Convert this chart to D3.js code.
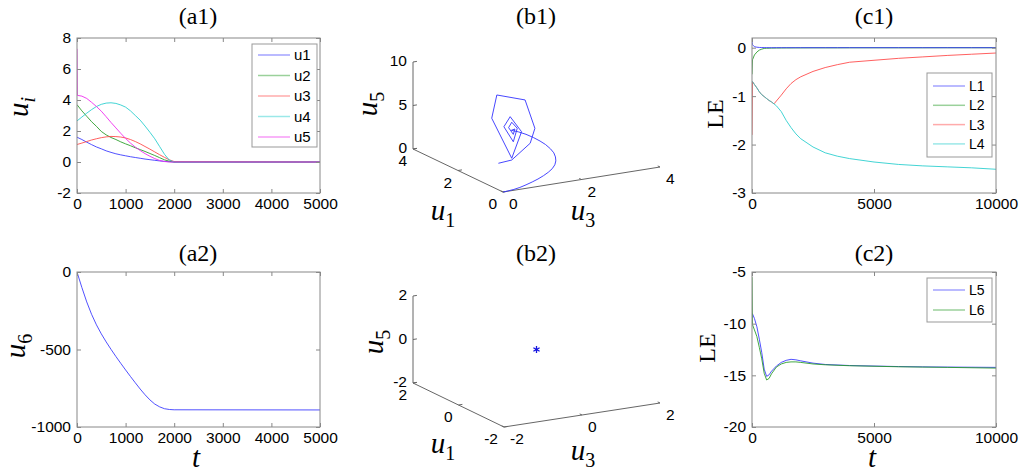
<!DOCTYPE html>
<html>
<head>
<meta charset="utf-8">
<script src="https://cdn.jsdelivr.net/npm/d3@7"></script>
<style>
  body { margin: 0; background: #fff; }
  svg { display: block; }
</style>
</head>
<body>
<svg id="fig" width="1024" height="472"></svg>
<script>
// ---- data ----
var timeA = [0, 100, 200, 300, 400, 500, 600, 700, 800, 900, 1000, 1100, 1200, 1300, 1400, 1500, 1600, 1700, 1800, 1900, 2000, 5000];
var u1 = [1.6, 1.45, 1.28, 1.12, 0.97, 0.85, 0.72, 0.62, 0.53, 0.46, 0.40, 0.34, 0.29, 0.24, 0.19, 0.15, 0.11, 0.07, 0.04, 0.02, 0, 0];
var u2 = [3.7, 3.3, 2.95, 2.6, 2.3, 1.97, 1.75, 1.58, 1.45, 1.3, 1.17, 1.05, 0.92, 0.8, 0.68, 0.55, 0.42, 0.28, 0.14, 0.05, 0, 0];
var u3 = [1.13, 1.22, 1.32, 1.42, 1.5, 1.57, 1.62, 1.65, 1.64, 1.61, 1.55, 1.45, 1.32, 1.17, 1.0, 0.83, 0.65, 0.47, 0.3, 0.14, 0.03, 0];
var u4 = [2.65, 2.9, 3.15, 3.38, 3.58, 3.72, 3.8, 3.82, 3.78, 3.68, 3.54, 3.3, 3.0, 2.7, 2.32, 1.92, 1.5, 1.0, 0.5, 0.12, 0, 0];
var u5 = [4.3, 4.25, 4.1, 3.85, 3.58, 3.28, 2.92, 2.55, 2.2, 1.85, 1.52, 1.22, 0.96, 0.74, 0.54, 0.37, 0.22, 0.1, 0.03, 0, 0, 0];
var u5Start = [7.3];   // transient spike of u5 at t = 0
var u6 = [0, -100, -193, -273, -341, -399, -451, -499, -545, -589, -632, -674, -715, -755, -792, -825, -852, -870, -882, -887, -889, -890];

// initial transient of (u1, u3, u5) before the smooth decay, panel (b1)
var spiralU1 = [1.6, 1.6, 1.6, 1.6, 1.6, 1.6, 1.6, 1.6, 1.6, 1.6, 1.6, 1.6, 1.6, 1.6, 1.6, 1.6, 1.6];
var spiralU3 = [0.80, 1.14, 1.61, 1.73, 1.48, 0.76, 0.63, 1.14, 1.39, 1.10, 0.94, 1.18, 1.28, 1.14, 1.06, 1.18, 1.22];
var spiralU5 = [0.75, 0.88, 2.47, 4.10, 7.54, 8.63, 6.05, 1.08, 3.95, 5.89, 4.85, 2.95, 4.43, 5.22, 4.66, 3.80, 4.39];

// equilibrium point, panel (b2)
var pointU1 = [0], pointU3 = [0], pointU5 = [0];

var timeC = [0, 20, 100, 200, 300, 400, 500, 600, 700, 800, 900, 1000, 1200, 1400, 1600, 1800, 2000, 2500, 3000, 3500, 4000, 5000, 6000, 7000, 8000, 9000, 10000];
var L1 = [0.12, 0.06, 0.02, 0.01, 0.005, 0.003, 0.002, 0.001, 0, 0, 0, 0, 0, 0, 0, 0, 0, 0, 0, 0, 0, 0, 0, 0, 0, 0, 0];
var L2 = [-0.55, -0.25, -0.15, -0.09, -0.05, -0.03, -0.015, -0.012, -0.01, -0.009, -0.008, -0.007, -0.006, -0.005, -0.005, -0.004, -0.004, -0.003, -0.003, -0.003, -0.002, -0.002, -0.002, -0.002, -0.001, -0.001, -0.001];
var L3 = [-1.8, -0.7, -0.76, -0.83, -0.91, -0.97, -1.01, -1.05, -1.09, -1.12, -1.16, -1.1, -0.98, -0.85, -0.74, -0.66, -0.6, -0.49, -0.41, -0.35, -0.3, -0.26, -0.22, -0.19, -0.16, -0.135, -0.11];
var L4 = [-0.7, -0.7, -0.76, -0.83, -0.91, -0.97, -1.01, -1.05, -1.09, -1.12, -1.16, -1.2, -1.32, -1.5, -1.65, -1.78, -1.88, -2.05, -2.17, -2.24, -2.29, -2.36, -2.41, -2.44, -2.46, -2.48, -2.51];

var timeC2 = [0, 20, 100, 200, 300, 400, 500, 600, 700, 800, 1000, 1200, 1400, 1600, 1800, 2000, 2500, 3000, 4000, 5000, 6000, 7000, 8000, 10000];
var L5 = [-9.0, -9.05, -9.5, -10.3, -11.5, -12.8, -14.4, -15.1, -14.95, -14.6, -14.1, -13.75, -13.55, -13.45, -13.5, -13.6, -13.82, -13.95, -14.05, -14.1, -14.15, -14.18, -14.2, -14.23];
var L6 = [-5.5, -10.1, -10.6, -11.25, -12.3, -13.4, -14.8, -15.45, -15.3, -14.85, -14.2, -13.9, -13.75, -13.7, -13.7, -13.75, -13.9, -13.98, -14.07, -14.12, -14.17, -14.2, -14.23, -14.3];

// tick labels
var ticksTA = [0, 1000, 2000, 3000, 4000, 5000];
var ticksTC = [0, 5000, 10000];
var ticksA1 = [-2, 0, 2, 4, 6, 8];
var ticksA2 = [-1000, -500, 0];
var ticksC1 = [-3, -2, -1, 0];
var ticksC2 = [-20, -15, -10, -5];
var ticksB1a = [0, 2, 4], ticksB1z = [0, 5, 10];
var ticksB2 = [-2, 0, 2];

(function () {
    'use strict';

    var svg = d3.select("#fig");
    var sans = "Liberation Sans, Arial, sans-serif",
        serif = "Liberation Serif, Times New Roman, serif";
    var blue = "#3333ff", green = "#229922", red = "#ff4444", cyan = "#22cccc", magenta = "#ee22ee";
    var tickFont = 15.5;

    function title(x, y, txt) {
        svg.append("text")
            .attr("x", x).attr("y", y)
            .attr("text-anchor", "middle")
            .attr("font-family", serif)
            .attr("font-size", 24)
            .text(txt);
    }

    // italic letter with a subscript; rotated when vertical
    function mathLabel(x, y, base, sub, subItalic, vertical) {
        var t = svg.append("text")
            .attr("transform", "translate(" + x + "," + y + ")" + (vertical ? " rotate(-90)" : ""))
            .attr("text-anchor", "middle")
            .attr("font-family", serif)
            .attr("font-size", 29);
        t.append("tspan").attr("font-style", "italic").text(base);
        if (sub) {
            t.append("tspan")
                .attr("font-size", 20)
                .attr("dy", 7)
                .attr("font-style", subItalic ? "italic" : "normal")
                .text(sub);
        }
    }

    function styleAxis(g) {
        g.select(".domain").remove();
        g.selectAll(".tick line").attr("stroke", "#888");
        g.selectAll(".tick text").attr("fill", "#000");
        g.attr("font-family", sans).attr("font-size", tickFont);
    }

    function panel(p) {
        var x = d3.scaleLinear().domain(p.xDomain).range([p.left, p.right]),
            y = d3.scaleLinear().domain(p.yDomain).range([p.bottom, p.top]);

        svg.append("clipPath").attr("id", "clip-" + p.name)
            .append("rect")
            .attr("x", p.left).attr("y", p.top)
            .attr("width", p.right - p.left).attr("height", p.bottom - p.top);

        var plot = svg.append("g").attr("clip-path", "url(#clip-" + p.name + ")");
        // drawing order may differ from legend order (z)
        var order = p.series.slice().sort(function (a, b) { return (a.z || 0) - (b.z || 0); });
        order.forEach(function (s) {
            var pts = s.values.map(function (v, i) { return [s.time[i], v]; });
            plot.append("path")
                .datum(pts)
                .attr("fill", "none")
                .attr("stroke", s.colour)
                .attr("stroke-width", 1)
                .attr("stroke-opacity", 0.85)
                .attr("d", d3.line()
                    .x(function (d) { return x(d[0]); })
                    .y(function (d) { return y(d[1]); }));
        });

        var fmt = function (d) { return String(d); };
        svg.append("g").attr("transform", "translate(" + p.left + ",0)")
            .call(d3.axisLeft(y).tickValues(p.yTicks).tickSizeInner(-4).tickSizeOuter(0).tickPadding(6).tickFormat(fmt))
            .call(styleAxis);
        svg.append("g").attr("transform", "translate(" + p.right + ",0)")
            .call(d3.axisRight(y).tickValues(p.yTicks).tickSizeInner(-4).tickSizeOuter(0).tickFormat(""))
            .call(styleAxis);
        svg.append("g").attr("transform", "translate(0," + p.bottom + ")")
            .call(d3.axisBottom(x).tickValues(p.xTicks).tickSizeInner(-4).tickSizeOuter(0).tickPadding(5).tickFormat(fmt))
            .call(styleAxis);
        svg.append("g").attr("transform", "translate(0," + p.top + ")")
            .call(d3.axisTop(x).tickValues(p.xTicks).tickSizeInner(-4).tickSizeOuter(0).tickFormat(""))
            .call(styleAxis);

        svg.append("rect")
            .attr("x", p.left).attr("y", p.top)
            .attr("width", p.right - p.left).attr("height", p.bottom - p.top)
            .attr("fill", "none").attr("stroke", "#888");

        if (p.legend) {
            var lg = p.legend;
            var box = svg.append("g");
            box.append("rect")
                .attr("x", lg.x).attr("y", lg.y)
                .attr("width", lg.w).attr("height", lg.h)
                .attr("fill", "#fff").attr("stroke", "#999");
            p.series.forEach(function (s, i) {
                var yy = lg.y + lg.first + i * lg.step;
                box.append("line")
                    .attr("x1", lg.x + 6).attr("x2", lg.x + 38)
                    .attr("y1", yy).attr("y2", yy)
                    .attr("stroke", s.colour).attr("stroke-width", 1.5).attr("stroke-opacity", 0.45);
                box.append("text")
                    .attr("x", lg.x + 42).attr("y", yy)
                    .attr("dy", "0.35em")
                    .attr("font-family", sans).attr("font-size", lg.font)
                    .text(s.name);
            });
        }
    }

    // ---- (a1) ----
    var u5WithSpike = u5Start.concat(u5);
    var timeSpike = [0].concat(timeA.map(function (t) { return t === 0 ? 8 : t; }));
    panel({
        name: "a1", left: 77, right: 320, top: 38, bottom: 193,
        xDomain: [0, 5000], yDomain: [-2, 8], xTicks: ticksTA, yTicks: ticksA1,
        series: [
            { name: "u1", time: timeA, values: u1, colour: blue },
            { name: "u2", time: timeA, values: u2, colour: green },
            { name: "u3", time: timeA, values: u3, colour: red },
            { name: "u4", time: timeA, values: u4, colour: cyan },
            { name: "u5", time: timeSpike, values: u5WithSpike, colour: magenta }
        ],
        legend: { x: 252, y: 44, w: 65, h: 103, first: 11, step: 20.5, font: 15 }
    });
    title(198, 24, "(a1)");
    mathLabel(28, 107, "u", "i", true, true);

    // ---- (a2) ----
    panel({
        name: "a2", left: 77, right: 320, top: 272, bottom: 427,
        xDomain: [0, 5000], yDomain: [-1000, 0], xTicks: ticksTA, yTicks: ticksA2,
        series: [{ name: "u6", time: timeA, values: u6, colour: blue }]
    });
    title(198, 261, "(a2)");
    mathLabel(25, 346, "u", "6", false, true);
    mathLabel(196, 467, "t", null, false, false);

    // ---- (c1) ----
    panel({
        name: "c1", left: 752, right: 996, top: 38, bottom: 193,
        xDomain: [0, 10000], yDomain: [-3, 0.2], xTicks: ticksTC, yTicks: ticksC1,
        series: [
            { name: "L1", time: timeC, values: L1, colour: blue, z: 2 },
            { name: "L2", time: timeC, values: L2, colour: green },
            { name: "L3", time: timeC, values: L3, colour: red },
            { name: "L4", time: timeC, values: L4, colour: cyan }
        ],
        legend: { x: 927, y: 73, w: 65, h: 84, first: 13, step: 19.3, font: 14 }
    });
    title(874, 24, "(c1)");
    svg.append("text")
        .attr("transform", "translate(723,114) rotate(-90)")
        .attr("text-anchor", "middle")
        .attr("font-family", serif).attr("font-size", 24)
        .text("LE");

    // ---- (c2) ----
    panel({
        name: "c2", left: 752, right: 996, top: 272, bottom: 427,
        xDomain: [0, 10000], yDomain: [-20, -5], xTicks: ticksTC, yTicks: ticksC2,
        series: [
            { name: "L5", time: timeC2, values: L5, colour: blue },
            { name: "L6", time: timeC2, values: L6, colour: green }
        ],
        legend: { x: 927, y: 278, w: 65, h: 44, first: 12, step: 20, font: 14 }
    });
    title(874, 261, "(c2)");
    svg.append("text")
        .attr("transform", "translate(715,348) rotate(-90)")
        .attr("text-anchor", "middle")
        .attr("font-family", serif).attr("font-size", 24)
        .text("LE");
    mathLabel(872, 467, "t", null, false, false);

    // ---- 3-D panels (b1), (b2) ----
    function panel3d(p) {
        var s1x = d3.scaleLinear().domain(p.dom1).range([0, p.v1[0]]),
            s1y = d3.scaleLinear().domain(p.dom1).range([0, p.v1[1]]),
            s3x = d3.scaleLinear().domain(p.dom3).range([0, p.v3[0]]),
            s3y = d3.scaleLinear().domain(p.dom3).range([0, p.v3[1]]),
            s5y = d3.scaleLinear().domain(p.dom5).range([0, p.v5]);
        function proj(a, b, c) {
            return [p.origin[0] + s1x(a) + s3x(b), p.origin[1] + s1y(a) + s3y(b) + s5y(c)];
        }
        var lo1 = p.dom1[0], hi1 = p.dom1[1],
            lo3 = p.dom3[0], hi3 = p.dom3[1],
            lo5 = p.dom5[0], hi5 = p.dom5[1];
        var g = svg.append("g");
        function seg(a, b) {
            g.append("line")
                .attr("x1", a[0]).attr("y1", a[1]).attr("x2", b[0]).attr("y2", b[1])
                .attr("stroke", "#666").attr("stroke-width", 1);
        }
        seg(proj(lo1, lo3, lo5), proj(hi1, lo3, lo5));
        seg(proj(lo1, lo3, lo5), proj(lo1, hi3, lo5));
        seg(proj(hi1, lo3, lo5), proj(hi1, lo3, hi5));

        var d3u = (hi3 - lo3) * 0.025, d1u = (hi1 - lo1) * 0.025;
        function label(pt, txt, anchor) {
            g.append("text")
                .attr("x", pt[0]).attr("y", pt[1])
                .attr("dy", "0.35em")
                .attr("text-anchor", anchor)
                .attr("font-family", sans).attr("font-size", tickFont)
                .text(txt);
        }
        p.ticks1.forEach(function (v) {
            seg(proj(v, lo3, lo5), proj(v, lo3 + d3u, lo5));
            var q = proj(v, lo3, lo5);
            label([q[0] - 6, q[1] + 12], String(v), "end");
        });
        p.ticks3.forEach(function (v) {
            seg(proj(lo1, v, lo5), proj(lo1 + d1u, v, lo5));
            var q = proj(lo1, v, lo5);
            label([q[0] + 6, q[1] + 12], String(v), "start");
        });
        p.ticks5.forEach(function (v) {
            seg(proj(hi1, lo3, v), proj(hi1, lo3 + d3u, v));
            var q = proj(hi1, lo3, v);
            label([q[0] - 6, q[1] - 1], String(v), "end");
        });
        return proj;
    }

    var proj1 = panel3d({
        origin: [503, 192], dom1: [0, 4], dom3: [0, 4], dom5: [0, 10],
        v1: [-90, -43], v3: [157, -25], v5: -87,
        ticks1: ticksB1a, ticks3: ticksB1a, ticks5: ticksB1z
    });
    var traj = spiralU1.map(function (a, i) { return proj1(a, spiralU3[i], spiralU5[i]); })
        .concat(timeA.map(function (t, i) { return proj1(u1[i], u3[i], u5[i]); }));
    svg.append("path")
        .datum(traj)
        .attr("fill", "none")
        .attr("stroke", blue)
        .attr("stroke-width", 1)
        .attr("stroke-opacity", 0.9)
        .attr("d", d3.line());
    title(536, 24, "(b1)");
    mathLabel(377, 104, "u", "5", false, true);
    mathLabel(443, 220, "u", "1", false, false);
    mathLabel(583, 220, "u", "3", false, false);

    var proj2 = panel3d({
        origin: [504, 427], dom1: [-2, 2], dom3: [-2, 2], dom5: [-2, 2],
        v1: [-91, -44], v3: [156, -24], v5: -87,
        ticks1: ticksB2, ticks3: ticksB2, ticks5: ticksB2
    });
    svg.selectAll(".eq")
        .data(pointU1)
        .enter()
        .append("path")
        .attr("class", "eq")
        .attr("transform", function (d, i) {
            var q = proj2(d, pointU3[i], pointU5[i]);
            return "translate(" + q[0] + "," + q[1] + ")";
        })
        .attr("d", d3.symbol().type(d3.symbolAsterisk).size(36))
        .attr("fill", "none")
        .attr("stroke", "#1515e0")
        .attr("stroke-width", 1.3);
    title(536, 261, "(b2)");
    mathLabel(383, 342, "u", "5", false, true);
    mathLabel(443, 453, "u", "1", false, false);
    mathLabel(583, 460, "u", "3", false, false);
})();
</script>
</body>
</html>
